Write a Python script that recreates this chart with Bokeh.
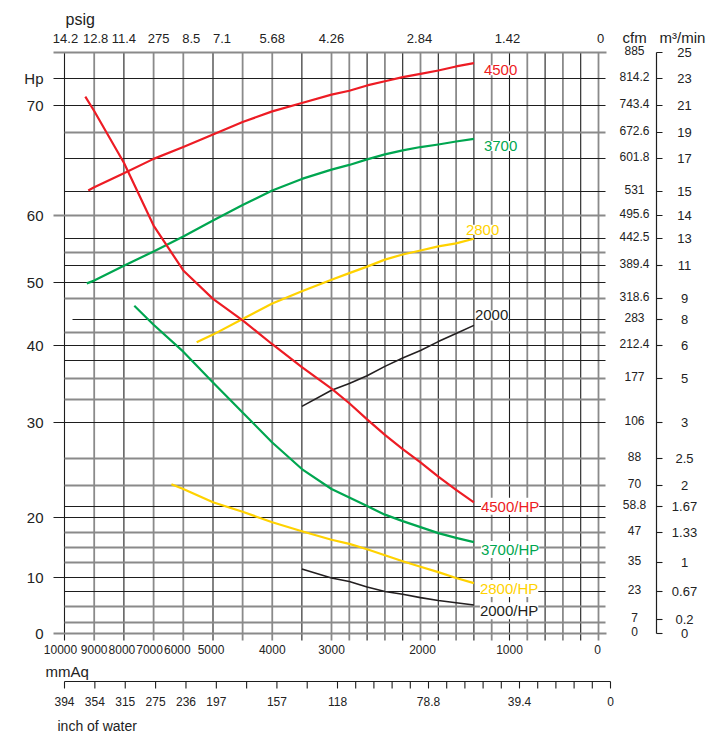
import numpy as np
from bokeh.plotting import figure
from bokeh.models import Range1d, LinearAxis, FixedTicker
from bokeh.core.properties import value
from bokeh.embed import file_html
from bokeh.resources import INLINE

FONT = "Liberation Sans"

# ---------------- scales (the chart's printed, non-linear scales) ----------------
MMAQ_SCALE = [0, 3000, 5000, 10000]
POS_X_SCALE = [534, 267, 148.5, 0]

HP_TICKS = [0, 10, 20, 30, 40, 50, 60, 70]
HP_POS = [0, 56, 116, 211, 288, 351, 418, 528]

CFM_TICKS = [0, 7, 23, 35, 47, 58.8, 70, 88, 106, 177, 212.4, 283, 318.6, 389.4,
             442.5, 495.6, 531, 601.8, 672.6, 743.4, 814.2, 885]
CFM_POS = [0, 14, 42, 71, 101, 127, 148, 175, 211, 255, 288, 314, 335, 368,
           395, 418, 442, 475, 501, 528, 555, 581]
CFM_LABELS = ["0", "7", "23", "35", "47", "58.8", "70", "88", "106", "177", "212.4", "283",
              "318.6", "389.4", "442.5", "495.6", "531", "601.8", "672.6", "743.4", "814.2", "885"]
M3_LABELS = ["0", "0.2", "0.67", "1", "1.33", "1.67", "2", "2.5", "3", "5", "6", "8", "9",
             "11", "13", "14", "15", "17", "19", "21", "23", "25"]

MMAQ_LABEL_VALUES = [10000, 9000, 8000, 7000, 6000, 5000, 4000, 3000, 2000, 1000, 0]
PSIG_LABELS = ["14.2", "12.8", "11.4", "275", "8.5", "7.1", "5.68", "4.26", "2.84", "1.42", "0"]
INCH_LABELS = ["394", "354", "315", "275", "236", "197", "157", "118", "78.8", "39.4", "0"]

GRID_MM = [10000, 9000, 8000, 7000, 6000, 5000, 4500, 4000, 3500] + list(range(3000, -1, -200))
GRID_V = [581, 555, 528, 501, 475, 442, 418, 395, 381, 368, 351, 335, 314, 301, 288, 273,
          255, 234, 211, 175, 148, 127, 116, 101, 86, 71, 56, 42, 27, 11, 0]
H_STYLE = "gkkgkkgkgkkgkgkkggkggkkgggkkggg"
V_STYLE = "kgkggkggkg" + "gkgkgkgkgkgkgkg"

# ---------------- data ----------------
R4500_MM = [9200, 9000, 8000, 7000, 6000, 5000, 4500, 4000, 3500, 3000, 2800, 2600, 2400,
            2200, 2000, 1800, 1600, 1400]
R4500_CFM = [533, 540, 570, 601, 633, 667, 700, 728, 750, 772, 782, 796, 807,
             818, 827, 836, 847, 856]

R4500_HP_MM = [9300, 9000, 8000, 7000, 6000, 5000, 4500, 4000, 3500, 3000, 2800, 2600,
               2400, 2200, 2000, 1800, 1600, 1400]
R4500_HP = [70.8, 69.5, 64.8, 58.5, 51.8, 47.4, 44.0, 40.2, 37.2, 34.4, 32.5, 30.4,
            28.7, 27.2, 25.8, 24.3, 22.9, 21.6]

G3700_MM = [9250, 9000, 8000, 7000, 6000, 5000, 4500, 4000, 3500, 3000, 2800, 2600,
            2400, 2200, 2000, 1800, 1600, 1400]
G3700_CFM = [351, 357, 389, 417, 447, 484, 511, 533, 558, 578, 588, 600, 613, 624, 633,
             640, 648, 655]

G3700_HP_MM = [7650, 7000, 6000, 5000, 4500, 4000, 3500, 3000, 2800, 2600, 2400, 2200,
               2000, 1800, 1600, 1400]
G3700_HP = [46.3, 43.3, 39.2, 35.2, 31.3, 27.9, 25.1, 23.0, 22.1, 21.2, 20.3, 19.4,
            18.4, 17.4, 16.6, 15.9]

Y2800_MM = [5550, 5000, 4500, 4000, 3500, 3000, 2800, 2600, 2400, 2200, 2000, 1800, 1600, 1400]
Y2800_CFM = [221, 242, 284, 310, 334, 359, 373, 387, 401, 411, 419, 427, 433, 442]

Y2800_HP_MM = [6400, 6000, 5000, 4500, 4000, 3500, 3000, 2800, 2600, 2400, 2200, 2000,
               1800, 1600, 1400]
Y2800_HP = [23.5, 23.0, 21.6, 20.6, 19.2, 17.7, 16.3, 15.6, 14.7, 13.7, 12.7, 11.8,
            10.9, 9.9, 9.0]

K2000_MM = [3500, 3000, 2800, 2600, 2400, 2200, 2000, 1800, 1600, 1400]
K2000_CFM = [132, 158, 169, 180, 190, 199, 207, 223, 245, 267]

K2000_HP_MM = [3500, 3000, 2800, 2600, 2400, 2200, 2000, 1800, 1600, 1400]
K2000_HP = [11.4, 9.9, 9.3, 8.3, 7.5, 7.0, 6.4, 5.9, 5.5, 5.1]

RED, GREEN, YELLOW, BLACK = "#ED1C24", "#00A650", "#FFD200", "#231F20"
GRAYLINE, DARKLINE, INK = "#8a8a8a", "#1e1e1e", "#222222"


def xpos(mm):
    return np.interp(np.asarray(mm, dtype=float), MMAQ_SCALE, POS_X_SCALE)


def ycfm(c):
    return np.interp(np.asarray(c, dtype=float), CFM_TICKS, CFM_POS)


def yhp(h):
    h = np.asarray(h, dtype=float)
    base = np.interp(h, HP_TICKS, HP_POS)
    slope = (HP_POS[-1] - HP_POS[-2]) / (HP_TICKS[-1] - HP_TICKS[-2])
    return np.where(h > HP_TICKS[-1], HP_POS[-1] + (h - HP_TICKS[-1]) * slope, base)


p = figure(width=709, height=733, output_backend="svg", toolbar_location=None,
           x_range=Range1d(-21, 645), y_range=Range1d(-100, 633),
           x_axis_type=None, y_axis_type=None,
           min_border_left=43, min_border_right=0, min_border_top=0, min_border_bottom=0,
           outline_line_color=None, background_fill_color="white",
           border_fill_color="white")

# ---------------- grid ----------------
gx = xpos(GRID_MM)
vcol = [GRAYLINE if s == "g" else DARKLINE for s in V_STYLE]
vw = [1.8 if s == "g" else 1.1 for s in V_STYLE]
p.segment(x0=gx, y0=[-7] * len(gx), x1=gx, y1=[GRID_V[0]] * len(gx),
          line_color=vcol, line_width=vw)

hp_v = set(HP_POS) | {555}
hx0 = []
for v in GRID_V:
    if v in hp_v or v == GRID_V[0]:
        hx0.append(-11)
    elif v == 314:
        hx0.append(8)
    else:
        hx0.append(0)
hx1 = [542 if (v == GRID_V[0] or v == 0) else 541 for v in GRID_V]
hcol = [GRAYLINE if s == "g" else DARKLINE for s in H_STYLE]
hw = [1.8 if s == "g" else 1.1 for s in H_STYLE]
p.segment(x0=hx0, y0=GRID_V, x1=hx1, y1=GRID_V, line_color=hcol, line_width=hw)

# ---------------- curves ----------------
curves = [
    (R4500_MM, ycfm(R4500_CFM), RED, "4500", 10, 7, 2.2),
    (G3700_MM, ycfm(G3700_CFM), GREEN, "3700", 10, 7, 2.2),
    (Y2800_MM, ycfm(Y2800_CFM), YELLOW, "2800", -8, -9, 2.2),
    (K2000_MM, ycfm(K2000_CFM), BLACK, "2000", 1, -10, 1.6),
    (R4500_HP_MM, yhp(R4500_HP), RED, "4500/HP", 7, 4, 2.2),
    (G3700_HP_MM, yhp(G3700_HP), GREEN, "3700/HP", 7, 7.5, 2.2),
    (Y2800_HP_MM, yhp(Y2800_HP), YELLOW, "2800/HP", 6, 5.5, 2.2),
    (K2000_HP_MM, yhp(K2000_HP), BLACK, "2000/HP", 6, 5.7, 1.6),
]
for mm, yv, col, lab, xo, yo, lw in curves:
    xs = xpos(mm)
    p.line(xs, yv, line_color=col, line_width=lw, line_join="round")
    p.text(x=[xs[-1]], y=[yv[-1]], text=[lab], x_offset=xo, y_offset=yo,
           text_color=col, text_font=value(FONT), text_font_size="15px",
           text_align="left", text_baseline="middle",
           background_fill_color="white")

# ---------------- left axis (Hp) ----------------
left_pos = [float(v) for v in HP_POS] + [555.0]
left_lab = [str(t) for t in HP_TICKS] + ["Hp"]
left = LinearAxis(ticker=FixedTicker(ticks=left_pos),
                  major_label_overrides={k: t for k, t in zip(left_pos, left_lab)})
left.axis_line_color = None
left.major_tick_line_color = None
left.minor_tick_line_color = None
left.major_tick_out = 0
left.major_tick_in = 0
left.major_label_standoff = 0
left.major_label_text_font = FONT
left.major_label_text_font_size = "15px"
left.major_label_text_color = INK
p.add_layout(left, "left")

# ---------------- top scale (psig) ----------------
psig_dx = [1, 1.5, 0, 5, 8, 9, 0, 0, -1, -2, 2]
p.text(x=xpos(MMAQ_LABEL_VALUES), y=[595] * len(PSIG_LABELS), text=PSIG_LABELS,
       x_offset=psig_dx, text_font=value(FONT), text_font_size="13px",
       text_align="center", text_baseline="middle", text_color=INK)
p.text(x=[1], y=[614], text=["psig"], text_font=value(FONT), text_font_size="16px",
       text_align="left", text_baseline="alphabetic", text_color=INK)

# ---------------- bottom scales (mmAq + inch of water) ----------------
mm_dx = [-4, 0, -2, -4, -6, -2, 0, 0, 2, 0, -1]
p.text(x=xpos(MMAQ_LABEL_VALUES), y=[-16] * len(MMAQ_LABEL_VALUES),
       text=[str(v) for v in MMAQ_LABEL_VALUES], x_offset=mm_dx, text_font=value(FONT),
       text_font_size="12px", text_align="center", text_baseline="middle",
       text_color=INK)
p.text(x=[-19], y=[-37.5], text=["mmAq"], text_font=value(FONT), text_font_size="15px",
       text_align="left", text_baseline="alphabetic", text_color=INK)

inch_scale = 546.0 / 534.0
ix = xpos(GRID_MM) * inch_scale
p.segment(x0=[ix.min()], y0=[-48], x1=[ix.max()], y1=[-48], line_color=DARKLINE, line_width=1.2)
p.segment(x0=ix, y0=[-48] * len(ix), x1=ix, y1=[-55] * len(ix), line_color=DARKLINE,
          line_width=1.1)
p.text(x=xpos(MMAQ_LABEL_VALUES) * inch_scale, y=[-67.7] * len(INCH_LABELS), text=INCH_LABELS,
       text_font=value(FONT), text_font_size="12px", text_align="center",
       text_baseline="middle", text_color=INK)
p.text(x=[-7], y=[-92], text=["inch of water"], text_font=value(FONT),
       text_font_size="14px", text_align="left", text_baseline="alphabetic",
       text_color=INK)

# ---------------- right scales (cfm + m3/min) ----------------
p.text(x=[570] * len(CFM_POS), y=CFM_POS, text=CFM_LABELS, y_offset=-2,
       text_font=value(FONT), text_font_size="12px", text_align="center",
       text_baseline="middle", text_color=INK)
p.segment(x0=[592], y0=[0], x1=[592], y1=[581], line_color=DARKLINE, line_width=1.2)
p.segment(x0=[592] * len(CFM_POS), y0=CFM_POS, x1=[598] * len(CFM_POS), y1=CFM_POS,
          line_color=DARKLINE, line_width=1.1)
p.text(x=[620] * len(CFM_POS), y=CFM_POS, text=M3_LABELS,
       text_font=value(FONT), text_font_size="13px", text_align="center",
       text_baseline="middle", text_color=INK)
p.text(x=[558], y=[596], text=["cfm"], text_font=value(FONT), text_font_size="15px",
       text_align="left", text_baseline="alphabetic", text_color=INK)
p.text(x=[595], y=[596], text=["m³/min"], text_font=value(FONT), text_font_size="15px",
       text_align="left", text_baseline="alphabetic", text_color=INK)

open("out.html", "w").write(file_html(p, INLINE))
